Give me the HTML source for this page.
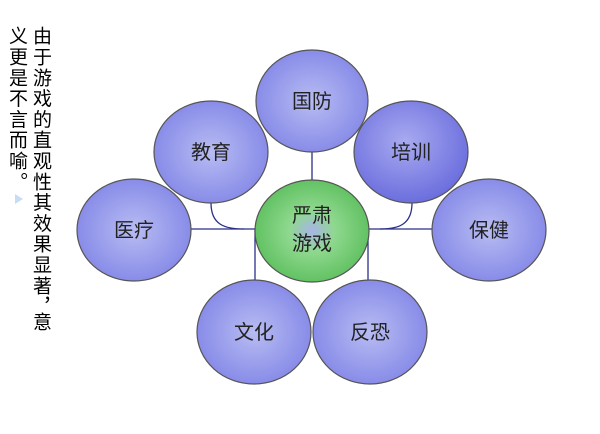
<!DOCTYPE html>
<html><head><meta charset="utf-8"><style>
html,body{margin:0;padding:0;background:#fff;}
body{width:600px;height:434px;position:relative;overflow:hidden;}
.col{position:absolute;top:26px;writing-mode:vertical-rl;font-family:"Liberation Sans","Noto Sans CJK SC",sans-serif;font-size:19px;line-height:20px;color:#000;letter-spacing:1.8px;white-space:pre;}
</style></head><body>
<div class="col" style="left:30px">由于游戏的直观性其效果显著，</div>
<div class="col" style="left:30px;top:312px">意</div>
<div class="col" style="left:6px">义更是不言而喻。</div>
<div style="position:absolute;left:15px;top:194px;width:0;height:0;border-top:5px solid transparent;border-bottom:5px solid transparent;border-left:8px solid #c8dcf4;"></div>
<svg width="600" height="434" style="position:absolute;left:0;top:0" font-family="Liberation Sans, Noto Sans CJK SC, sans-serif">
<defs>
<radialGradient id="b" cx="50%" cy="50%" r="50%"><stop offset="0" stop-color="#b8bcf2"/><stop offset="1" stop-color="#888ce8"/></radialGradient>
<radialGradient id="p" cx="45%" cy="40%" r="60%"><stop offset="0" stop-color="#a8aaf0"/><stop offset="1" stop-color="#6c6ede"/></radialGradient>
<radialGradient id="g" cx="50%" cy="50%" r="50%"><stop offset="0" stop-color="#a8b4e8"/><stop offset="0.4" stop-color="#8fd88f"/><stop offset="1" stop-color="#62c262"/></radialGradient>
</defs>
<g stroke="#2a2f8a" stroke-width="1.3" fill="none">
<line x1="191" y1="229" x2="256" y2="229"/>
<line x1="368" y1="229" x2="432" y2="229"/>
<line x1="312" y1="152" x2="312" y2="181"/>
<line x1="255" y1="229" x2="255" y2="281"/>
<line x1="368" y1="229" x2="368" y2="281"/>
<path d="M211 203 C211 225 225 229 244 229"/>
<path d="M412 203 C412 225 398 229 380 229"/>
</g>
<g stroke="#555" stroke-width="1.2">
<ellipse cx="312" cy="101" rx="56" ry="51" fill="url(#b)"/>
<ellipse cx="211" cy="152" rx="57" ry="51" fill="url(#b)"/>
<ellipse cx="411" cy="152" rx="57" ry="51" fill="url(#p)"/>
<ellipse cx="134" cy="230" rx="57" ry="51" fill="url(#b)"/>
<ellipse cx="489" cy="230" rx="57" ry="51" fill="url(#b)"/>
<ellipse cx="312" cy="231" rx="57" ry="51" fill="url(#g)"/>
<ellipse cx="254" cy="332" rx="57" ry="52" fill="url(#b)"/>
<ellipse cx="370" cy="332" rx="57" ry="52" fill="url(#b)"/>
</g>
<g font-size="20" fill="#222" text-anchor="middle">
<text x="312" y="108">国防</text>
<text x="211" y="159">教育</text>
<text x="411" y="159">培训</text>
<text x="134" y="237">医疗</text>
<text x="489" y="237">保健</text>
<text x="312" y="222">严肃</text>
<text x="312" y="250">游戏</text>
<text x="254" y="339">文化</text>
<text x="370" y="339">反恐</text>
</g>
</svg>
</body></html>
